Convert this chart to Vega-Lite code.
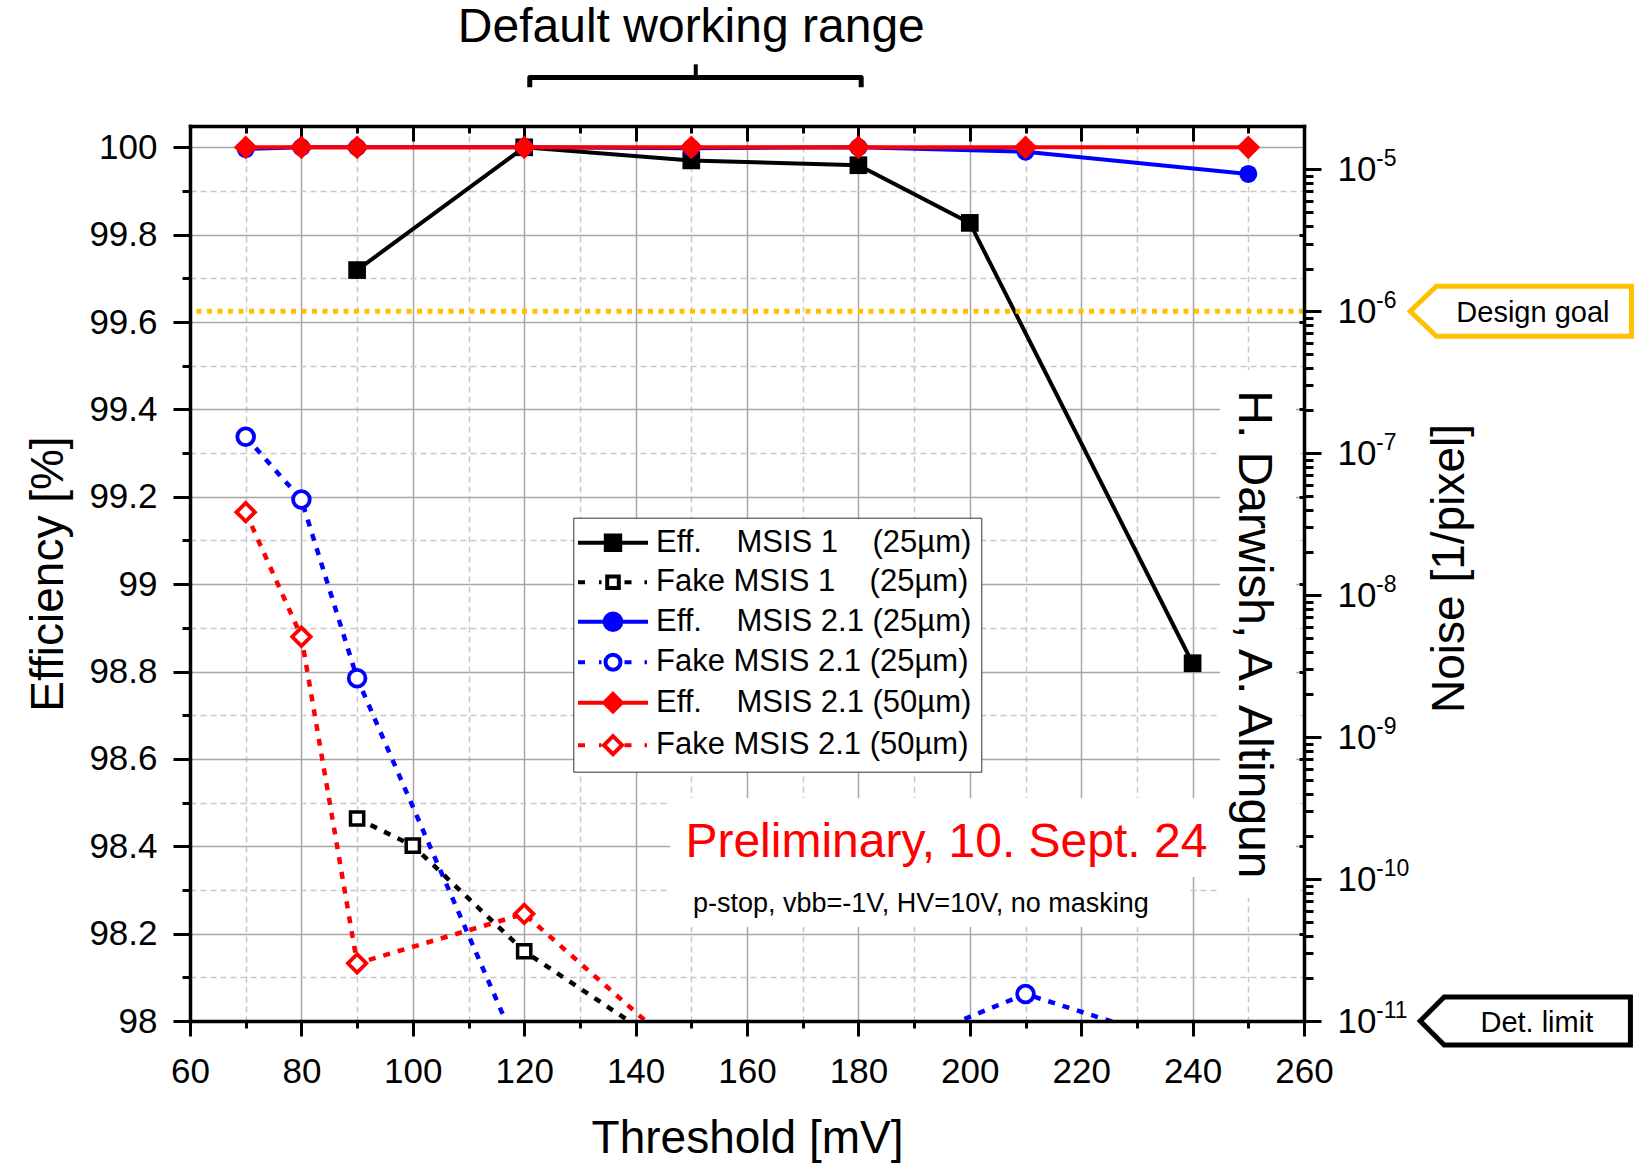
{
"$schema":"https://vega.github.io/schema/vega-lite/v6.json",
"width":1114,"height":895,
"autosize":{"type":"none"},
"padding":{"left":190,"top":126,"right":330,"bottom":142},
"background":"white",
"config":{"font":"Liberation Sans","view":{"stroke":null},
 "axis":{"domainColor":"#000000","tickColor":"#000000","labelColor":"#000000","titleColor":"#000000","titleFontWeight":"normal","domainWidth":3.5,"tickWidth":3,"labelFlush":false,"labelOverlap":false,"gridColor":"#a6a6a6","gridWidth":1.5,"domainCap":"square"}},
"datasets":{
 "eff":[
  {"thr":90,"eff":99.719,"series":"Eff.\u00a0\u00a0\u00a0\u00a0MSIS 1\u00a0\u00a0\u00a0\u00a0(25µm)"},
  {"thr":120,"eff":100.0,"series":"Eff.\u00a0\u00a0\u00a0\u00a0MSIS 1\u00a0\u00a0\u00a0\u00a0(25µm)"},
  {"thr":150,"eff":99.970,"series":"Eff.\u00a0\u00a0\u00a0\u00a0MSIS 1\u00a0\u00a0\u00a0\u00a0(25µm)"},
  {"thr":180,"eff":99.959,"series":"Eff.\u00a0\u00a0\u00a0\u00a0MSIS 1\u00a0\u00a0\u00a0\u00a0(25µm)"},
  {"thr":200,"eff":99.827,"series":"Eff.\u00a0\u00a0\u00a0\u00a0MSIS 1\u00a0\u00a0\u00a0\u00a0(25µm)"},
  {"thr":240,"eff":98.819,"series":"Eff.\u00a0\u00a0\u00a0\u00a0MSIS 1\u00a0\u00a0\u00a0\u00a0(25µm)"},
  {"thr":70,"eff":99.996,"series":"Eff.\u00a0\u00a0\u00a0\u00a0MSIS 2.1 (25µm)"},
  {"thr":80,"eff":100.0,"series":"Eff.\u00a0\u00a0\u00a0\u00a0MSIS 2.1 (25µm)"},
  {"thr":90,"eff":100.0,"series":"Eff.\u00a0\u00a0\u00a0\u00a0MSIS 2.1 (25µm)"},
  {"thr":120,"eff":100.0,"series":"Eff.\u00a0\u00a0\u00a0\u00a0MSIS 2.1 (25µm)"},
  {"thr":150,"eff":99.998,"series":"Eff.\u00a0\u00a0\u00a0\u00a0MSIS 2.1 (25µm)"},
  {"thr":180,"eff":100.0,"series":"Eff.\u00a0\u00a0\u00a0\u00a0MSIS 2.1 (25µm)"},
  {"thr":210,"eff":99.99,"series":"Eff.\u00a0\u00a0\u00a0\u00a0MSIS 2.1 (25µm)"},
  {"thr":250,"eff":99.939,"series":"Eff.\u00a0\u00a0\u00a0\u00a0MSIS 2.1 (25µm)"},
  {"thr":70,"eff":100.0,"series":"Eff.\u00a0\u00a0\u00a0\u00a0MSIS 2.1 (50µm)"},
  {"thr":80,"eff":100.0,"series":"Eff.\u00a0\u00a0\u00a0\u00a0MSIS 2.1 (50µm)"},
  {"thr":90,"eff":100.0,"series":"Eff.\u00a0\u00a0\u00a0\u00a0MSIS 2.1 (50µm)"},
  {"thr":120,"eff":100.0,"series":"Eff.\u00a0\u00a0\u00a0\u00a0MSIS 2.1 (50µm)"},
  {"thr":150,"eff":100.0,"series":"Eff.\u00a0\u00a0\u00a0\u00a0MSIS 2.1 (50µm)"},
  {"thr":180,"eff":100.0,"series":"Eff.\u00a0\u00a0\u00a0\u00a0MSIS 2.1 (50µm)"},
  {"thr":210,"eff":100.0,"series":"Eff.\u00a0\u00a0\u00a0\u00a0MSIS 2.1 (50µm)"},
  {"thr":250,"eff":100.0,"series":"Eff.\u00a0\u00a0\u00a0\u00a0MSIS 2.1 (50µm)"}
 ],
 "fake":[
  {"thr":90,"noise":2.67e-10,"series":"Fake MSIS 1\u00a0\u00a0\u00a0\u00a0(25µm)"},
  {"thr":100,"noise":1.72e-10,"series":"Fake MSIS 1\u00a0\u00a0\u00a0\u00a0(25µm)"},
  {"thr":120,"noise":3.1e-11,"series":"Fake MSIS 1\u00a0\u00a0\u00a0\u00a0(25µm)"},
  {"thr":150,"noise":5.1e-12,"series":"Fake MSIS 1\u00a0\u00a0\u00a0\u00a0(25µm)"},
  {"thr":70,"noise":1.305e-7,"series":"Fake MSIS 2.1 (25µm)"},
  {"thr":80,"noise":4.72e-8,"series":"Fake MSIS 2.1 (25µm)"},
  {"thr":90,"noise":2.6e-9,"series":"Fake MSIS 2.1 (25µm)"},
  {"thr":120,"noise":5.0e-12,"series":"Fake MSIS 2.1 (25µm)"},
  {"thr":150,"noise":5.0e-12,"series":"Fake MSIS 2.1 (25µm)"},
  {"thr":180,"noise":5.1e-12,"series":"Fake MSIS 2.1 (25µm)"},
  {"thr":210,"noise":1.55e-11,"series":"Fake MSIS 2.1 (25µm)"},
  {"thr":250,"noise":4.9e-12,"series":"Fake MSIS 2.1 (25µm)"},
  {"thr":70,"noise":3.84e-8,"series":"Fake MSIS 2.1 (50µm)"},
  {"thr":80,"noise":5.09e-9,"series":"Fake MSIS 2.1 (50µm)"},
  {"thr":90,"noise":2.55e-11,"series":"Fake MSIS 2.1 (50µm)"},
  {"thr":120,"noise":5.69e-11,"series":"Fake MSIS 2.1 (50µm)"},
  {"thr":150,"noise":5.2e-12,"series":"Fake MSIS 2.1 (50µm)"}
 ]
},
"layer":[
 {
  "resolve":{"axis":{"x":"independent","y":"independent"}},
  "layer":[
   {"data":{"values":[{"bx1":146.2,"bx2":244.9,"by1":98.5105,"by2":98.3296},{"bx1":146.2,"bx2":239.5,"by1":98.3296,"by2":98.2152},{"bx1":244.9,"bx2":258.6,"by1":99.49,"by2":98.2816}]},
    "mark":{"type":"rect","fill":"#ffffff"},
    "encoding":{
     "x":{"field":"bx1","type":"quantitative","scale":{"domain":[60,260],"nice":false,"zero":false},
      "axis":{"orient":"bottom","values":[70,90,110,130,150,170,190,210,230,250],"tickSize":7,"labels":false,"domain":false,"grid":true,"gridDash":[6,4],"gridColor":"#c8c8c8","title":null,"zindex":0}},
     "x2":{"field":"bx2"},
     "y":{"field":"by1","type":"quantitative","scale":{"domain":[98,100.0488],"nice":false,"zero":false},
      "axis":{"orient":"left","values":[98.1,98.3,98.5,98.7,98.9,99.1,99.3,99.5,99.7,99.9],"tickSize":8,"labels":false,"domain":false,"grid":true,"gridDash":[6,4],"gridColor":"#c8c8c8","title":null,"zindex":0}},
     "y2":{"field":"by2"}}},
   {"data":{"name":"eff"},
    "mark":{"type":"point","filled":false,"opacity":0},
    "encoding":{
     "x":{"field":"thr","type":"quantitative","scale":{"domain":[60,260],"nice":false,"zero":false},"axis":null},
     "y":{"field":"eff","type":"quantitative","scale":{"domain":[98,100.0488],"nice":false,"zero":false},"axis":null},
     "color":{"field":"series","type":"nominal",
      "scale":{"domain":["Eff.\u00a0\u00a0\u00a0\u00a0MSIS 1\u00a0\u00a0\u00a0\u00a0(25µm)","Fake MSIS 1\u00a0\u00a0\u00a0\u00a0(25µm)","Eff.\u00a0\u00a0\u00a0\u00a0MSIS 2.1 (25µm)","Fake MSIS 2.1 (25µm)","Eff.\u00a0\u00a0\u00a0\u00a0MSIS 2.1 (50µm)","Fake MSIS 2.1 (50µm)"],"range":["#000000","#000000","#0000ff","#0000ff","#ff0000","#ff0000"]},
      "legend":{"title":null,"orient":"none","legendX":383.3,"legendY":391.7,"padding":9.5,"rowPadding":7.5,"symbolOffset":14.7,"labelOffset":27.5,"symbolSize":400,"symbolStrokeWidth":4,"symbolOpacity":1,"labelFontSize":31,"labelFont":"Liberation Sans","labelColor":"#000000","labelLimit":600,"strokeColor":"#333333","fillColor":"#ffffff","cornerRadius":0}},
     "shape":{"field":"series","type":"nominal",
      "scale":{"domain":["Eff.\u00a0\u00a0\u00a0\u00a0MSIS 1\u00a0\u00a0\u00a0\u00a0(25µm)","Fake MSIS 1\u00a0\u00a0\u00a0\u00a0(25µm)","Eff.\u00a0\u00a0\u00a0\u00a0MSIS 2.1 (25µm)","Fake MSIS 2.1 (25µm)","Eff.\u00a0\u00a0\u00a0\u00a0MSIS 2.1 (50µm)","Fake MSIS 2.1 (50µm)"],
       "range":[
        "M-3.5,0H3.5M-0.92,-0.72H0.92M-0.92,-0.36H0.92M-0.92,0.36H0.92M-0.92,0.72H0.92",
        "M-3.5,0H-2.8M-1.4,0H-1.15M1.15,0H1.85M3.15,0H3.4M-0.58,-0.58H0.58V0.58H-0.58Z",
        "M-3.5,0H3.5M0.83,0A0.83,0.83,0,1,1,-0.83,0A0.83,0.83,0,1,1,0.83,0M0.5,0A0.5,0.5,0,1,1,-0.5,0A0.5,0.5,0,1,1,0.5,0M0.18,0A0.18,0.18,0,1,1,-0.18,0A0.18,0.18,0,1,1,0.18,0",
        "M-3.5,0H-2.8M-1.4,0H-1.15M1.15,0H1.85M3.15,0H3.4M0.75,0A0.75,0.75,0,1,1,-0.75,0A0.75,0.75,0,1,1,0.75,0Z",
        "M-3.5,0H3.5M0,-0.88L0.88,0L0,0.88L-0.88,0ZM0,-0.6L0.6,0L0,0.6L-0.6,0ZM0,-0.32L0.32,0L0,0.32L-0.32,0Z",
        "M-3.5,0H-2.8M-1.4,0H-1.15M1.15,0H1.85M3.15,0H3.4M0,-0.9L0.9,0L0,0.9L-0.9,0Z"]},
      "legend":{"title":null,"orient":"none","legendX":383.3,"legendY":391.7,"padding":9.5,"rowPadding":7.5,"symbolOffset":14.7,"labelOffset":27.5,"symbolSize":400,"symbolStrokeWidth":4,"symbolOpacity":1,"labelFontSize":31,"labelFont":"Liberation Sans","labelColor":"#000000","labelLimit":600,"strokeColor":"#333333","fillColor":"#ffffff","cornerRadius":0}}}},
   {"data":{"name":"eff"},
    "mark":{"type":"line","strokeWidth":4},
    "encoding":{
     "x":{"field":"thr","type":"quantitative","scale":{"domain":[60,260],"nice":false,"zero":false},
      "axis":{"orient":"bottom","values":[60,80,100,120,140,160,180,200,220,240,260],"format":"d","tickSize":15,"labelFontSize":35,"labelPadding":18,"grid":false,"domain":true,"title":"Threshold [mV]","titleFontSize":46,"titleY":131,"titleBaseline":"alphabetic","zindex":1}},
     "y":{"field":"eff","type":"quantitative","scale":{"domain":[98,100.0488],"nice":false,"zero":false},
      "axis":{"orient":"left","values":[98,98.2,98.4,98.6,98.8,99,99.2,99.4,99.6,99.8,100],"format":"~g","tickSize":17,"labelFontSize":35,"labelPadding":16,"grid":false,"domain":true,"title":"Efficiency [%]","titleFontSize":46,"titleAngle":-90,"titleX":-128,"titleY":447.5,"titleBaseline":"alphabetic","zindex":1}},
     "color":{"field":"series","type":"nominal"}}},
   {"data":{"name":"eff"},
    "transform":[{"filter":{"field":"series","equal":"Eff.\u00a0\u00a0\u00a0\u00a0MSIS 1\u00a0\u00a0\u00a0\u00a0(25µm)"}}],
    "mark":{"type":"point","shape":"square","filled":true,"size":313,"opacity":1,"color":"#000000"},
    "encoding":{
     "x":{"field":"thr","type":"quantitative","scale":{"domain":[60,260],"nice":false,"zero":false},
      "axis":{"orient":"top","values":[60,80,100,120,140,160,180,200,220,240,260],"tickSize":-15,"labels":false,"domain":true,"grid":true,"gridColor":"#a6a6a6","title":null,"zindex":0}},
     "y":{"field":"eff","type":"quantitative","scale":{"domain":[98,100.0488],"nice":false,"zero":false},
      "axis":{"orient":"right","values":[98,98.2,98.4,98.6,98.8,99,99.2,99.4,99.6,99.8,100],"ticks":false,"labels":false,"domain":false,"grid":true,"gridColor":"#a6a6a6","title":null,"zindex":0}}}},
   {"data":{"name":"eff"},
    "transform":[{"filter":{"field":"series","equal":"Eff.\u00a0\u00a0\u00a0\u00a0MSIS 2.1 (25µm)"}}],
    "mark":{"type":"point","shape":"circle","filled":true,"size":324,"opacity":1,"color":"#0000ff"},
    "encoding":{
     "x":{"field":"thr","type":"quantitative","scale":{"domain":[60,260],"nice":false,"zero":false},
      "axis":{"orient":"top","values":[70,90,110,130,150,170,190,210,230,250],"tickSize":-7,"labels":false,"domain":false,"grid":false,"title":null,"zindex":0}},
     "y":{"field":"eff","type":"quantitative","scale":{"domain":[98,100.0488],"nice":false,"zero":false},
      "axis":{"orient":"right","values":[98.2,98.4,98.6,98.8,99,99.2,99.4,99.6,99.8],"tickSize":-5,"labels":false,"domain":false,"grid":false,"title":null,"zindex":1}}}},
   {"data":{"name":"eff"},
    "transform":[{"filter":{"field":"series","equal":"Eff.\u00a0\u00a0\u00a0\u00a0MSIS 2.1 (50µm)"}}],
    "mark":{"type":"point","shape":"diamond","filled":true,"size":560,"opacity":1,"color":"#ff0000"},
    "encoding":{
     "x":{"field":"thr","type":"quantitative","scale":{"domain":[60,260],"nice":false,"zero":false},"axis":null},
     "y":{"field":"eff","type":"quantitative","scale":{"domain":[98,100.0488],"nice":false,"zero":false},"axis":null}}},
   {"data":{"values":[{"tx":150,"ty":100.2418,"label":"Default working range"}]},
    "mark":{"type":"text","fontSize":48,"align":"center","baseline":"alphabetic","color":"#000000"},
    "encoding":{
     "x":{"field":"tx","type":"quantitative","scale":{"domain":[60,260],"nice":false,"zero":false},"axis":null},
     "y":{"field":"ty","type":"quantitative","scale":{"domain":[98,100.0488],"nice":false,"zero":false},"axis":null},
     "text":{"field":"label"}}},
   {"data":{"values":[{"tx":195.8,"ty":98.3754,"label":"Preliminary, 10. Sept. 24"}]},
    "mark":{"type":"text","fontSize":48,"align":"center","baseline":"alphabetic","color":"#ff0000"},
    "encoding":{
     "x":{"field":"tx","type":"quantitative","scale":{"domain":[60,260],"nice":false,"zero":false},"axis":null},
     "y":{"field":"ty","type":"quantitative","scale":{"domain":[98,100.0488],"nice":false,"zero":false},"axis":null},
     "text":{"field":"label"}}},
   {"data":{"values":[{"tx":150.3,"ty":98.2495,"label":"p-stop, vbb=-1V, HV=10V, no masking"}]},
    "mark":{"type":"text","fontSize":27,"align":"left","baseline":"alphabetic","color":"#000000"},
    "encoding":{
     "x":{"field":"tx","type":"quantitative","scale":{"domain":[60,260],"nice":false,"zero":false},"axis":null},
     "y":{"field":"ty","type":"quantitative","scale":{"domain":[98,100.0488],"nice":false,"zero":false},"axis":null},
     "text":{"field":"label"}}},
   {"data":{"values":[{"tx":248.4,"ty":98.885,"label":"H. Darwish, A. Altingun"}]},
    "mark":{"type":"text","fontSize":48,"align":"center","baseline":"alphabetic","angle":90,"color":"#000000"},
    "encoding":{
     "x":{"field":"tx","type":"quantitative","scale":{"domain":[60,260],"nice":false,"zero":false},"axis":null},
     "y":{"field":"ty","type":"quantitative","scale":{"domain":[98,100.0488],"nice":false,"zero":false},"axis":null},
     "text":{"field":"label"}}},
   {"data":{"values":[{"bx":121,"by":100.1373,"o":1},{"bx":121,"by":100.1598,"o":2},{"bx":180.5,"by":100.1598,"o":3},{"bx":180.5,"by":100.1373,"o":4}]},
    "mark":{"type":"line","strokeWidth":5,"color":"#000000","strokeJoin":"round"},
    "encoding":{
     "x":{"field":"bx","type":"quantitative","scale":{"domain":[60,260],"nice":false,"zero":false},"axis":null},
     "y":{"field":"by","type":"quantitative","scale":{"domain":[98,100.0488],"nice":false,"zero":false},"axis":null},
     "order":{"field":"o","type":"quantitative"}}},
   {"data":{"values":[{"bx":150.8,"by1":100.1598,"by2":100.19}]},
    "mark":{"type":"rule","strokeWidth":4,"color":"#000000"},
    "encoding":{
     "x":{"field":"bx","type":"quantitative","scale":{"domain":[60,260],"nice":false,"zero":false},"axis":null},
     "y":{"field":"by1","type":"quantitative","scale":{"domain":[98,100.0488],"nice":false,"zero":false},"axis":null},
     "y2":{"field":"by2"}}}
  ]
 },
 {
  "resolve":{"axis":{"y":"independent"}},
  "layer":[
   {"data":{"values":[{"noise":1e-6}]},
    "mark":{"type":"rule","color":"#ffc000","strokeWidth":5,"strokeDash":[5,5.5]},
    "encoding":{"y":{"field":"noise","type":"quantitative","scale":{"type":"log","domain":[1e-11,2.018e-5],"nice":false},"axis":null}}},
   {"data":{"name":"fake"},
    "mark":{"type":"line","strokeWidth":4.5,"strokeDash":[7,8],"clip":true},
    "encoding":{
     "x":{"field":"thr","type":"quantitative","scale":{"domain":[60,260],"nice":false,"zero":false},"axis":null},
     "y":{"field":"noise","type":"quantitative","scale":{"type":"log","domain":[1e-11,2.018e-5],"nice":false},
      "axis":{"orient":"right","values":[1e-11,1e-10,1e-9,1e-8,1e-7,1e-6,1e-5],"labelExpr":"'10'","tickSize":17,"labelFontSize":35,"labelPadding":16,"grid":false,"domain":true,"title":"Noise [1/pixel]","titleFontSize":46,"titleAngle":-90,"titleX":159,"titleY":442,"titleBaseline":"alphabetic","zindex":1}},
     "color":{"field":"series","type":"nominal"}}},
   {"data":{"name":"fake"},
    "transform":[{"filter":{"field":"series","equal":"Fake MSIS 1\u00a0\u00a0\u00a0\u00a0(25µm)"}},{"filter":"datum.noise >= 1e-11"}],
    "mark":{"type":"point","shape":"square","filled":false,"fill":"#ffffff","strokeWidth":3.5,"size":174,"opacity":1},
    "encoding":{
     "x":{"field":"thr","type":"quantitative","scale":{"domain":[60,260],"nice":false,"zero":false},"axis":null},
     "y":{"field":"noise","type":"quantitative","scale":{"type":"log","domain":[1e-11,2.018e-5],"nice":false},
      "axis":{"orient":"right","values":[2e-11,3e-11,4e-11,5e-11,6e-11,7e-11,8e-11,9e-11,2e-10,3e-10,4e-10,5e-10,6e-10,7e-10,8e-10,9e-10,2e-9,3e-9,4e-9,5e-9,6e-9,7e-9,8e-9,9e-9,2e-8,3e-8,4e-8,5e-8,6e-8,7e-8,8e-8,9e-8,2e-7,3e-7,4e-7,5e-7,6e-7,7e-7,8e-7,9e-7,2e-6,3e-6,4e-6,5e-6,6e-6,7e-6,8e-6,9e-6],"tickSize":9,"labels":false,"domain":false,"grid":false,"title":null,"zindex":1}},
     "color":{"field":"series","type":"nominal"}}},
   {"data":{"name":"fake"},
    "transform":[{"filter":{"field":"series","equal":"Fake MSIS 2.1 (25µm)"}},{"filter":"datum.noise >= 1e-11"}],
    "mark":{"type":"point","shape":"circle","filled":false,"fill":"#ffffff","strokeWidth":3.8,"size":280,"opacity":1},
    "encoding":{
     "x":{"field":"thr","type":"quantitative","scale":{"domain":[60,260],"nice":false,"zero":false},"axis":null},
     "y":{"field":"noise","type":"quantitative","scale":{"type":"log","domain":[1e-11,2.018e-5],"nice":false},"axis":null},
     "color":{"field":"series","type":"nominal"}}},
   {"data":{"name":"fake"},
    "transform":[{"filter":{"field":"series","equal":"Fake MSIS 2.1 (50µm)"}},{"filter":"datum.noise >= 1e-11"}],
    "mark":{"type":"point","shape":"diamond","filled":false,"fill":"#ffffff","strokeWidth":3.8,"size":340,"opacity":1},
    "encoding":{
     "x":{"field":"thr","type":"quantitative","scale":{"domain":[60,260],"nice":false,"zero":false},"axis":null},
     "y":{"field":"noise","type":"quantitative","scale":{"type":"log","domain":[1e-11,2.018e-5],"nice":false},"axis":null},
     "color":{"field":"series","type":"nominal"}}},
   {"data":{"values":[{"tip":279.07,"noise":1e-6}]},
    "mark":{"type":"point","shape":"M0,0L1.05,-1H8.85V1H1.05Z","size":2500,"filled":false,"fill":"#ffffff","stroke":"#ffc000","strokeWidth":5,"strokeJoin":"miter","opacity":1},
    "encoding":{
     "x":{"field":"tip","type":"quantitative","scale":{"domain":[60,260],"nice":false,"zero":false},"axis":null},
     "y":{"field":"noise","type":"quantitative","scale":{"type":"log","domain":[1e-11,2.018e-5],"nice":false},"axis":null}}},
   {"data":{"values":[{"tip":280.86,"noise":1e-11}]},
    "mark":{"type":"point","shape":"M0,0L1,-1H8.76V1H1Z","size":2304,"filled":false,"fill":"#ffffff","stroke":"#000000","strokeWidth":5,"strokeJoin":"miter","opacity":1},
    "encoding":{
     "x":{"field":"tip","type":"quantitative","scale":{"domain":[60,260],"nice":false,"zero":false},"axis":null},
     "y":{"field":"noise","type":"quantitative","scale":{"type":"log","domain":[1e-11,2.018e-5],"nice":false},"axis":null}}},
   {"data":{"values":[{"mid":301.1,"noise":1e-6,"label":"Design goal"},{"mid":301.8,"noise":1e-11,"label":"Det. limit"}]},
    "mark":{"type":"text","fontSize":29,"align":"center","baseline":"middle","dy":2,"color":"#000000"},
    "encoding":{
     "x":{"field":"mid","type":"quantitative","scale":{"domain":[60,260],"nice":false,"zero":false},"axis":null},
     "y":{"field":"noise","type":"quantitative","scale":{"type":"log","domain":[1e-11,2.018e-5],"nice":false},"axis":null},
     "text":{"field":"label"}}},
   {"data":{"values":[{"noise":1e-11,"exp":"-11"},{"noise":1e-10,"exp":"-10"},{"noise":1e-9,"exp":"-9"},{"noise":1e-8,"exp":"-8"},{"noise":1e-7,"exp":"-7"},{"noise":1e-6,"exp":"-6"},{"noise":1e-5,"exp":"-5"}]},
    "mark":{"type":"text","fontSize":23,"align":"left","baseline":"alphabetic","dy":-3,"color":"#000000"},
    "encoding":{
     "x":{"datum":272.93,"type":"quantitative","scale":{"domain":[60,260],"nice":false,"zero":false},"axis":null},
     "y":{"field":"noise","type":"quantitative","scale":{"type":"log","domain":[1e-11,2.018e-5],"nice":false},"axis":null},
     "text":{"field":"exp"}}}
  ]
 }
],
"resolve":{"scale":{"y":"independent"},"axis":{"x":"independent","y":"independent"}}
}
